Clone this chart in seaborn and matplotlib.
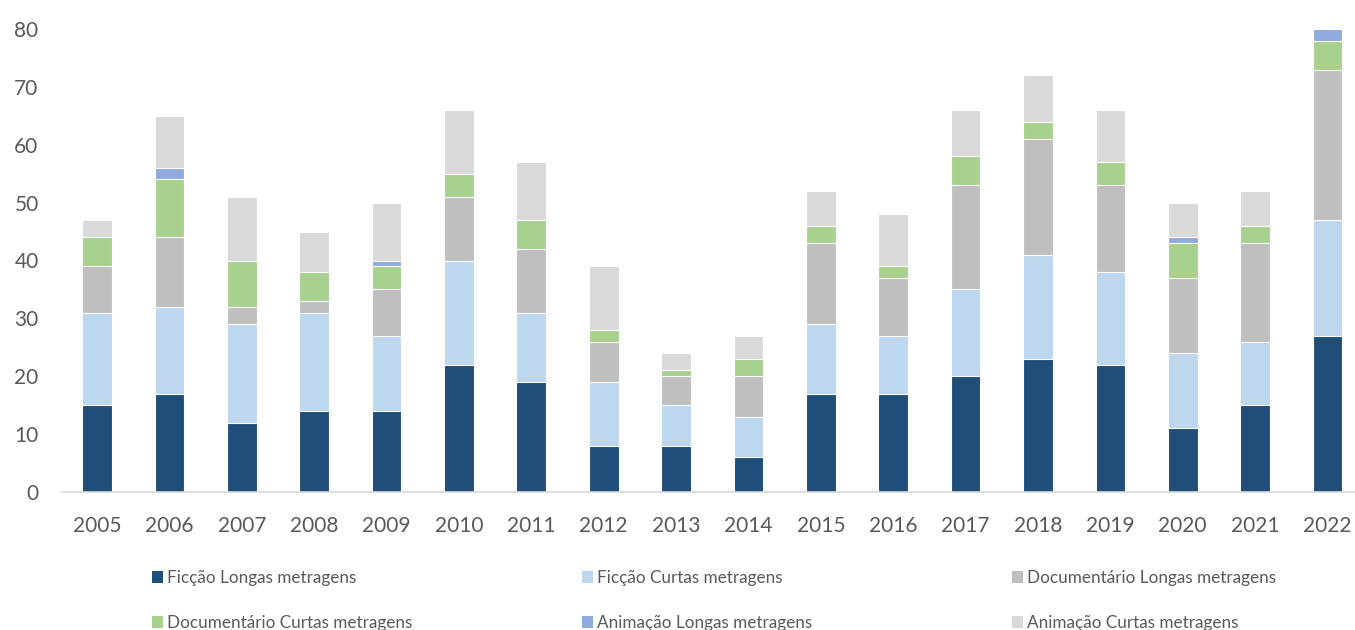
import numpy as np
import pandas as pd
import matplotlib
matplotlib.use("Agg")
import matplotlib.pyplot as plt
import seaborn as sns
from matplotlib.patches import Patch

years = ["2005", "2006", "2007", "2008", "2009", "2010", "2011", "2012", "2013",
         "2014", "2015", "2016", "2017", "2018", "2019", "2020", "2021", "2022"]
ficcao_longas = [15, 17, 12, 14, 14, 22, 19, 8, 8, 6, 17, 17, 20, 23, 22, 11, 15, 27]
ficcao_curtas = [16, 15, 17, 17, 13, 18, 12, 11, 7, 7, 12, 10, 15, 18, 16, 13, 11, 20]
doc_longas = [8, 12, 3, 2, 8, 11, 11, 7, 5, 7, 14, 10, 18, 20, 15, 13, 17, 26]
doc_curtas = [5, 10, 8, 5, 4, 4, 5, 2, 1, 3, 3, 2, 5, 3, 4, 6, 3, 5]
anim_longas = [0, 2, 0, 0, 1, 0, 0, 0, 0, 0, 0, 0, 0, 0, 0, 1, 0, 2]
anim_curtas = [3, 9, 11, 7, 10, 11, 10, 11, 3, 4, 6, 9, 8, 8, 9, 6, 6, 0]

series_names = ["Ficção Longas metragens", "Ficção Curtas metragens",
                "Documentário Longas metragens", "Documentário Curtas metragens",
                "Animação Longas metragens", "Animação Curtas metragens"]
series_values = [ficcao_longas, ficcao_curtas, doc_longas, doc_curtas, anim_longas, anim_curtas]
colors = ["#1F4E79", "#BDD7EE", "#BFBFBF", "#A9D18E", "#8FAADC", "#D9D9D9"]

sns.set_theme(style="white")
plt.rcParams["font.family"] = ["Lato", "DejaVu Sans"]

fig = plt.figure(figsize=(13.55, 6.3), dpi=100)
ax = fig.add_axes([60.8 / 1355, 138 / 630, (1363.7 - 60.8) / 1355, (492 - 29) / 630])

cum = np.cumsum(np.array(series_values, dtype=float), axis=0)
for i in range(len(series_names) - 1, -1, -1):
    df = pd.DataFrame({"year": years, "value": cum[i]})
    sns.barplot(data=df, x="year", y="value", color=colors[i], width=0.41,
                saturation=1, edgecolor="white", linewidth=0.8, ax=ax, errorbar=None)

ax.set_xlim(-0.5, 17.5)
ax.set_ylim(0, 80)
ax.set_yticks(np.arange(0, 81, 10))
ax.set_xlabel("")
ax.set_ylabel("")
for s in ["top", "right", "left"]:
    ax.spines[s].set_visible(False)
ax.spines["bottom"].set_color("#D9D9D9")
ax.spines["bottom"].set_linewidth(1.2)
ax.tick_params(axis="both", length=0, labelsize=15, colors="#595959")
ax.tick_params(axis="x", pad=17)
ax.tick_params(axis="y", pad=16)
ax.grid(False)

handles = [Patch(facecolor=c, edgecolor="none") for c in colors]
col_x = [152 / 1355, 582 / 1355, 1012 / 1355]
for j in range(3):
    idx = [j, j + 3]
    fig.legend([handles[k] for k in idx], [series_names[k] for k in idx],
               loc="upper left", bbox_to_anchor=(col_x[j], 1 - 570 / 630),
               frameon=False, fontsize=12.3, handlelength=0.65, handleheight=0.65,
               handletextpad=0.25, labelspacing=1.7, borderpad=0, borderaxespad=0,
               labelcolor="#595959")

fig.savefig("out.png", dpi=100)
